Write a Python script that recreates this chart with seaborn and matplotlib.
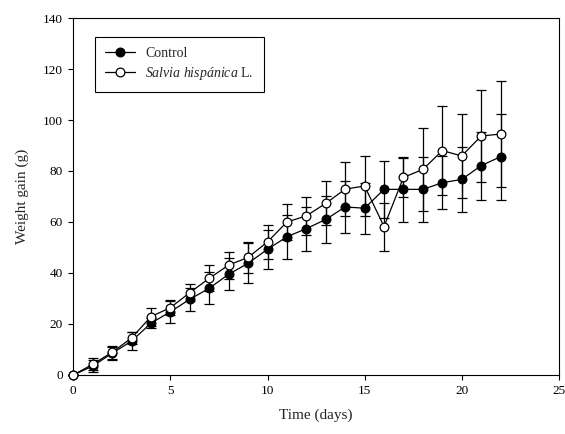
import numpy as np
import pandas as pd
import seaborn as sns
import matplotlib
matplotlib.use('Agg')
import matplotlib.pyplot as plt
from matplotlib.lines import Line2D

days = list(range(0, 23))

control_mean = [0, 3.5, 8.5, 13.3, 20.3, 24.8, 29.7, 34.0, 39.5, 43.8, 49.3, 54.2,
                57.4, 61.0, 65.9, 65.4, 72.8, 72.8, 72.8, 75.4, 76.7, 82.1, 85.6]
control_sd = [0, 2.3, 2.6, 3.4, 2.0, 4.3, 4.6, 6.3, 6.2, 7.8, 7.7, 8.6,
              8.6, 9.1, 10.1, 10.0, 11.1, 12.7, 12.7, 10.3, 12.7, 13.3, 16.9]

salvia_mean = [0, 4.2, 8.9, 14.5, 22.9, 26.4, 32.3, 37.9, 43.1, 46.1, 52.2, 60.0,
               62.4, 67.3, 72.9, 74.1, 58.2, 77.5, 80.6, 88.0, 85.9, 93.7, 94.5]
salvia_sd = [0, 2.4, 2.6, 2.5, 3.5, 3.0, 3.4, 5.1, 5.3, 6.1, 6.6, 7.0,
             7.4, 8.6, 10.6, 11.8, 9.4, 7.7, 16.4, 17.4, 16.3, 18.1, 20.8]

groups = ['Control', 'Salvia hispánica L.']
faces = {groups[0]: 'black', groups[1]: 'white'}

df = pd.concat([
    pd.DataFrame({'day': days, 'gain': control_mean, 'sd': control_sd, 'group': groups[0]}),
    pd.DataFrame({'day': days, 'gain': salvia_mean, 'sd': salvia_sd, 'group': groups[1]}),
])

sns.set_style('ticks')
plt.rcParams['font.family'] = ['Liberation Serif', 'DejaVu Serif']
plt.rcParams['mathtext.fontset'] = 'custom'
plt.rcParams['mathtext.it'] = 'Liberation Serif:italic'
plt.rcParams['mathtext.rm'] = 'Liberation Serif'

fig = plt.figure(figsize=(5.65, 4.34), dpi=100)
ax = fig.add_axes([0.1297, 0.136, 0.8594, 0.8225])

# error bars first (behind the markers)
for g in groups:
    sub = df[df['group'] == g]
    ax.errorbar(sub['day'], sub['gain'], yerr=sub['sd'], fmt='none',
                ecolor='black', elinewidth=0.9, capsize=3.6, capthick=0.9,
                zorder=2, clip_on=False)

for g in groups:
    sub = df[df['group'] == g]
    n_before = len(ax.get_lines())
    sns.lineplot(data=sub, x='day', y='gain', color='black', marker='o',
                 linewidth=0.9, markersize=6.3, errorbar=None, ax=ax, zorder=3)
    for ln in ax.get_lines()[n_before:]:
        ln.set_markerfacecolor(faces[g])
        ln.set_markeredgecolor('black')
        ln.set_markeredgewidth(0.9)
        ln.set_clip_on(False)

ax.set_xlim(0, 25)
ax.set_ylim(0, 140)
ax.set_xticks([0, 5, 10, 15, 20, 25])
ax.set_yticks(range(0, 141, 20))
ax.tick_params(direction='out', length=3.5, width=0.8, labelsize=9.5,
               colors='black', pad=4)
for side in ['left', 'bottom', 'right', 'top']:
    ax.spines[side].set_visible(True)
    ax.spines[side].set_linewidth(0.8)
    ax.spines[side].set_color('black')

ax.set_xlabel('Time (days)', fontsize=11, labelpad=8)
ax.set_ylabel('Weight gain (g)', fontsize=11, labelpad=10)

handles = [
    Line2D([], [], color='black', lw=0.9, marker='o', markersize=6.3,
           markerfacecolor='black', markeredgecolor='black', markeredgewidth=0.9),
    Line2D([], [], color='black', lw=0.9, marker='o', markersize=6.3,
           markerfacecolor='white', markeredgecolor='black', markeredgewidth=0.9),
]
leg = ax.legend(handles, ['Control', r'$Salvia\ hispánica$ L.'],
                loc='upper left', bbox_to_anchor=(0.0447, 0.9476),
                borderaxespad=0, fontsize=10, frameon=True, fancybox=False,
                edgecolor='black', framealpha=1, borderpad=0.75,
                labelspacing=0.32, handlelength=2.15, handletextpad=0.72)
leg.get_frame().set_linewidth(0.8)

fig.savefig('out.png', dpi=100)
